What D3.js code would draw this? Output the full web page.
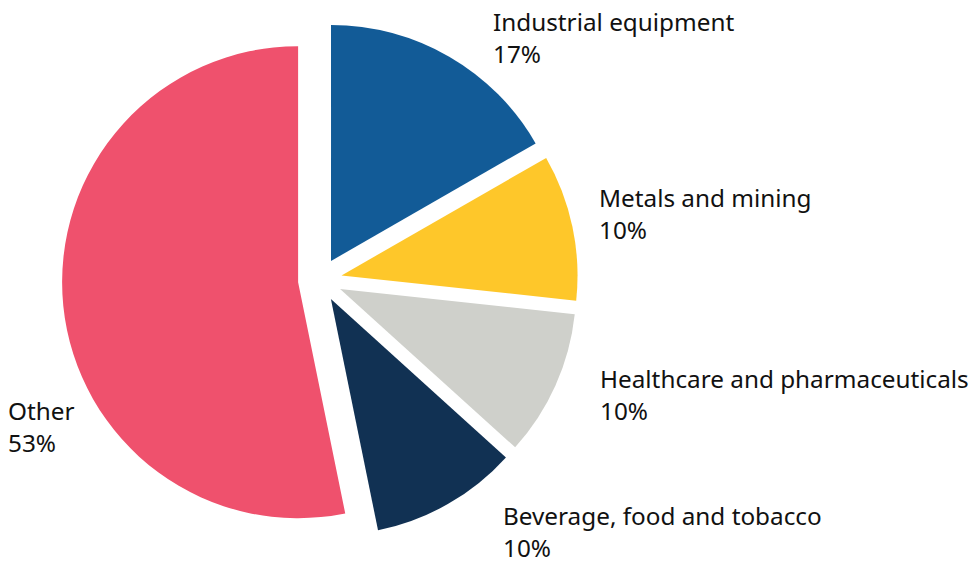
<!DOCTYPE html>
<html>
<head>
<meta charset="utf-8">
<script src="https://cdn.jsdelivr.net/npm/d3@7"></script>
<style>
  html, body { margin: 0; padding: 0; background: #fff; }
  svg { display: block; }
  text { font-family: "Noto Sans", sans-serif; fill: #111; }
</style>
</head>
<body>
<svg id="chart" width="974" height="562"></svg>
<script>
// Data
const categories = ["Industrial equipment", "Metals and mining", "Healthcare and pharmaceuticals", "Beverage, food and tobacco", "Other"];
const values = [16.7, 10.0, 10.0, 10.1, 53.2];
const valueLabels = ["17%", "10%", "10%", "10%", "53%"];
const colors = ["#125B97", "#FEC72A", "#CFD0CB", "#113153", "#EF516D"];

// Layout
const width = 974, height = 562;
const cx = 320, cy = 280;
const radius = 236;
const explode = 22;
const labelPos = [[493, 31], [599, 207], [600, 388], [503, 525], [8, 420]];
const lineGap = 31.5;
const fontSize = 24.3;

const svg = d3.select("#chart");
const g = svg.append("g").attr("transform", `translate(${cx},${cy})`);

const pie = d3.pie().sort(null).value(d => d.value);
const arcs = pie(categories.map((c, i) => ({ name: c, value: values[i], label: valueLabels[i] })));
const arc = d3.arc().innerRadius(0).outerRadius(radius);

g.selectAll("path.slice")
  .data(arcs)
  .join("path")
  .attr("class", "slice")
  .attr("d", arc)
  .attr("fill", (d, i) => colors[i])
  .attr("transform", d => {
    const mid = (d.startAngle + d.endAngle) / 2;
    return `translate(${explode * Math.sin(mid)},${-explode * Math.cos(mid)})`;
  });

const labels = svg.selectAll("g.label")
  .data(arcs)
  .join("g")
  .attr("class", "label")
  .attr("transform", (d, i) => `translate(${labelPos[i][0]},${labelPos[i][1]})`);

labels.append("text")
  .attr("x", 0).attr("y", 0)
  .attr("font-size", fontSize)
  .text(d => d.data.name);
labels.append("text")
  .attr("x", 0).attr("y", lineGap)
  .attr("font-size", fontSize)
  .text(d => d.data.label);
</script>
</body>
</html>
